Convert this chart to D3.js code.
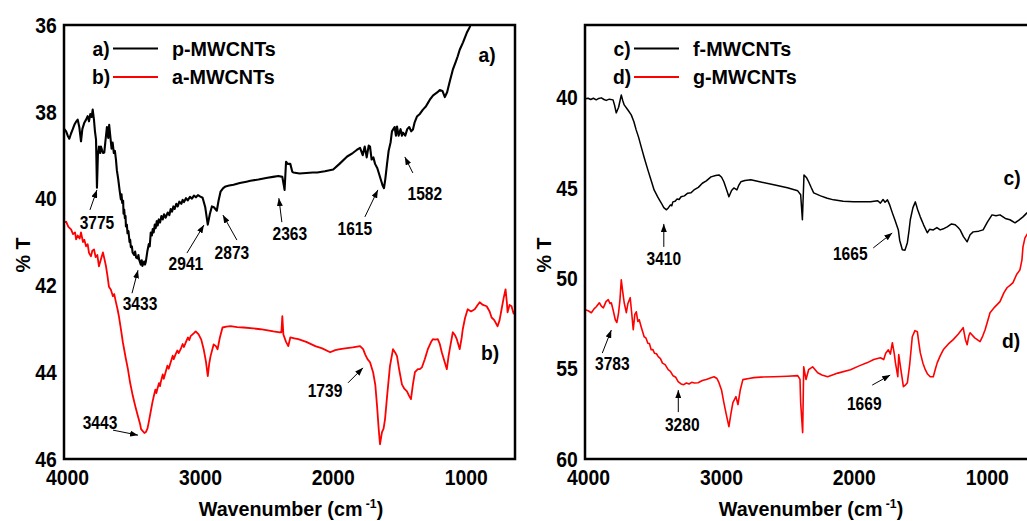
<!DOCTYPE html>
<html>
<head>
<meta charset="utf-8">
<script src="https://cdn.jsdelivr.net/npm/d3@7"></script>
<style>
  html, body { margin: 0; padding: 0; background: #fff; }
  svg { display: block; }
  text { font-family: "Liberation Sans", Arial, sans-serif; font-weight: bold; fill: #000; }
</style>
</head>
<body>
<svg id="chart" width="1027" height="521"></svg>
<script>
// FTIR spectra: [wavenumber (cm-1), transmittance (%T)]
const pMWCNTs = [
  [4020,38.40],[4007,38.45],[3995,38.55],[3983,38.62],[3970,38.50],[3957,38.40],[3945,38.30],[3930,38.22],
  [3920,38.18],[3908,38.35],[3895,38.68],[3885,38.40],[3870,38.25],[3857,38.18],[3845,38.10],[3835,38.22],
  [3825,38.05],[3815,38.12],[3807,37.95],[3797,38.20],[3790,38.45],[3782,38.64],[3775,39.75],[3768,39.00],
  [3760,38.80],[3750,38.95],[3745,38.80],[3735,38.90],[3728,38.95],[3720,38.94],[3712,38.70],[3700,38.35],
  [3690,38.60],[3683,38.30],[3675,38.55],[3665,38.85],[3657,38.71],[3648,38.95],[3640,38.90],[3632,39.10],
  [3625,39.35],[3615,39.55],[3605,39.80],[3595,40.02],[3590,39.90],[3585,40.10],[3578,40.05],[3575,40.35],
  [3570,40.25],[3565,40.45],[3560,40.40],[3557,40.64],[3550,40.60],[3545,40.80],[3538,40.75],[3530,41.00],
  [3525,40.95],[3520,41.12],[3512,41.10],[3507,41.24],[3495,41.30],[3488,41.22],[3480,41.36],[3470,41.38],
  [3463,41.30],[3458,41.40],[3445,41.52],[3438,41.42],[3433,41.55],[3420,41.45],[3413,41.52],[3407,41.45],
  [3395,41.20],[3385,41.05],[3378,41.10],[3370,40.78],[3362,40.85],[3355,40.70],[3348,40.78],[3340,40.60],
  [3333,40.68],[3325,40.52],[3318,40.62],[3310,40.48],[3300,40.55],[3290,40.40],[3280,40.48],[3270,40.36],
  [3258,40.44],[3242,40.32],[3230,40.38],[3220,40.24],[3210,40.30],[3200,40.18],[3190,40.24],[3178,40.12],
  [3167,40.18],[3155,40.07],[3140,40.12],[3130,40.03],[3120,40.08],[3105,39.99],[3092,40.04],[3075,39.96],
  [3060,40.00],[3045,39.93],[3030,39.97],[3015,39.92],[3000,39.95],[2980,39.98],
  [2960,40.20],[2941,40.60],[2925,40.35],[2910,40.18],[2895,40.20],[2873,40.28],[2860,40.05],[2845,39.84],
  [2825,39.76],[2807,39.72],[2780,39.70],[2747,39.68],[2700,39.64],[2650,39.61],[2620,39.59],[2560,39.56],
  [2492,39.52],[2450,39.50],[2410,39.48],[2380,39.50],[2363,39.80],[2352,39.15],[2340,39.20],[2320,39.20],
  [2305,39.38],[2297,39.40],[2250,39.42],[2200,39.41],[2150,39.40],[2117,39.40],[2060,39.37],[1997,39.33],
  [1950,39.20],[1892,39.03],[1850,38.95],[1820,38.88],[1795,38.83],[1775,39.00],[1760,38.80],[1745,39.05],
  [1730,38.78],[1720,38.80],[1708,39.10],[1695,39.05],[1682,39.20],[1665,39.30],[1650,39.45],[1635,39.60],
  [1625,39.70],[1615,39.76],[1605,39.55],[1592,39.20],[1580,38.90],[1565,38.70],[1555,38.45],[1547,38.41],
  [1535,38.35],[1525,38.55],[1517,38.34],[1505,38.55],[1490,38.40],[1480,38.55],[1472,38.48],[1455,38.55],
  [1440,38.40],[1425,38.35],[1410,38.45],[1397,38.41],[1385,38.25],[1367,38.11],[1345,38.05],[1322,37.95],
  [1300,37.88],[1285,37.80],[1270,37.72],[1245,37.62],[1217,37.56],[1195,37.50],[1175,37.52],[1157,37.66],
  [1140,37.55],[1120,37.30],[1097,37.03],[1075,36.85],[1060,36.72],[1045,36.57],[1020,36.40],[992,36.18],
  [970,36.05],[955,35.93],[940,35.80]
];

const aMWCNTs = [
  [4020,40.55],[4007,40.53],[3990,40.65],[3970,40.71],[3955,40.82],[3940,40.78],[3932,40.94],[3920,40.85],
  [3905,40.92],[3895,40.78],[3880,41.00],[3870,40.95],[3857,41.10],[3845,41.05],[3835,41.25],[3820,41.33],
  [3810,41.20],[3797,41.17],[3785,41.35],[3772,41.30],[3760,41.56],[3745,41.40],[3730,41.24],[3718,41.40],
  [3707,41.56],[3695,41.80],[3685,42.03],[3670,42.10],[3655,42.25],[3645,42.20],[3632,42.39],[3620,42.55],
  [3610,42.71],[3595,43.00],[3580,43.31],[3560,43.65],[3542,43.93],[3525,44.25],[3505,44.55],[3485,44.80],
  [3467,45.01],[3450,45.20],[3443,45.31],[3418,45.40],[3407,45.38],[3395,45.30],[3385,45.15],[3370,44.90],
  [3358,44.70],[3347,44.55],[3335,44.40],[3328,44.48],[3320,44.38],[3308,44.25],[3300,44.32],[3295,44.23],
  [3280,44.05],[3272,44.15],[3260,44.02],[3245,43.85],[3235,43.92],[3220,43.77],[3205,43.62],[3197,43.70],
  [3185,43.60],[3170,43.50],[3160,43.56],[3145,43.47],[3130,43.35],[3120,43.42],[3105,43.30],[3090,43.20],
  [3080,43.26],[3070,43.17],[3045,43.10],[3032,43.06],[3010,43.13],[2990,43.25],[2972,43.47],[2955,43.75],
  [2941,44.09],[2930,43.80],[2920,43.63],[2897,43.36],[2880,43.40],[2867,43.47],[2850,43.20],[2830,42.97],
  [2800,42.95],[2770,42.94],[2720,42.96],[2672,42.97],[2600,42.99],[2545,43.01],[2500,43.03],[2447,43.06],
  [2400,43.08],[2387,43.08],[2380,42.71],[2372,43.13],[2352,43.30],[2335,43.40],[2320,43.20],[2290,43.22],
  [2260,43.24],[2200,43.30],[2132,43.40],[2080,43.45],[2020,43.54],[1982,43.49],[1945,43.47],[1907,43.45],
  [1850,43.43],[1795,43.40],[1772,43.47],[1755,43.60],[1739,43.70],[1720,43.77],[1697,44.00],[1680,44.30],
  [1667,44.78],[1655,45.30],[1645,45.66],[1630,45.38],[1618,45.30],[1607,45.08],[1590,44.50],[1570,43.86],
  [1547,43.47],[1530,43.55],[1517,43.63],[1500,43.95],[1480,44.28],[1462,44.38],[1442,44.44],[1425,44.55],
  [1412,44.62],[1398,44.30],[1382,44.00],[1360,43.93],[1345,43.93],[1330,43.89],[1308,43.70],[1285,43.47],
  [1260,43.30],[1247,43.24],[1230,43.25],[1210,43.24],[1195,43.35],[1180,43.54],[1160,43.75],[1142,43.93],
  [1130,43.65],[1120,43.47],[1097,43.08],[1080,43.15],[1067,43.24],[1045,43.47],[1030,43.20],[1022,43.01],
  [1005,42.75],[985,42.55],[960,42.60],[932,42.55],[910,42.45],[895,42.39],[870,42.45],[842,42.48],
  [820,42.60],[805,42.74],[785,42.80],[760,42.94],[745,42.80],[730,42.55],[715,42.30],[700,42.09],
  [690,42.40],[685,42.62],[670,42.45],[655,42.48],[640,42.65],[629,42.60]
];

const fMWCNTs = [
  [4020,40.08],[4000,40.05],[3980,40.12],[3960,40.05],[3938,40.14],[3920,40.06],[3900,40.03],[3880,40.12],
  [3863,40.17],[3840,40.10],[3812,40.14],[3800,40.45],[3788,40.86],[3770,40.55],[3750,39.87],[3738,40.20],
  [3728,40.42],[3700,40.70],[3675,40.97],[3655,41.35],[3638,41.80],[3620,42.20],[3600,42.74],[3575,43.40],
  [3550,44.01],[3525,44.60],[3503,45.12],[3475,45.52],[3450,45.83],[3430,46.10],[3410,46.22],[3395,46.10],
  [3380,45.95],[3370,46.00],[3362,45.78],[3345,45.75],[3330,45.62],[3315,45.65],[3300,45.50],[3275,45.45],
  [3250,45.30],[3225,45.28],[3203,45.12],[3170,44.98],[3140,44.75],[3110,44.62],[3075,44.40],
  [3040,44.32],[3015,44.29],[2995,44.42],[2978,44.67],[2960,45.05],[2940,45.50],[2920,45.15],[2903,45.01],
  [2880,45.12],[2865,44.85],[2850,44.67],[2820,44.60],[2775,44.56],[2700,44.68],[2602,44.84],[2500,45.00],
  [2422,45.17],[2400,45.39],[2387,46.77],[2375,44.29],[2355,44.45],[2340,44.67],[2320,45.00],[2302,45.28],
  [2250,45.45],[2200,45.58],[2152,45.67],[2080,45.75],[2002,45.78],[1940,45.78],[1875,45.78],[1820,45.72],
  [1800,45.85],[1780,45.65],[1765,45.80],[1747,45.67],[1730,45.95],[1710,46.39],[1690,46.80],[1665,47.33],
  [1655,47.90],[1635,48.43],[1615,48.45],[1597,48.04],[1585,47.40],[1575,46.77],[1555,46.10],[1537,45.78],
  [1520,46.20],[1500,46.61],[1475,47.05],[1447,47.49],[1430,47.30],[1402,47.33],[1375,47.20],[1350,47.33],
  [1320,47.25],[1297,47.16],[1265,47.00],[1237,47.05],[1215,47.20],[1200,47.33],[1175,47.70],[1147,47.99],
  [1125,47.60],[1102,47.44],[1060,47.40],[1027,47.33],[995,46.90],[960,46.50],[930,46.55],[900,46.50],
  [860,46.70],[825,46.77],[787,46.94],[760,46.80],[727,46.61],[697,46.39],[660,46.30],[629,46.35]
];

const gMWCNTs = [
  [4020,51.75],[4000,51.80],[3975,51.91],[3955,51.70],[3938,51.58],[3915,51.36],[3900,51.55],[3885,51.64],
  [3865,51.30],[3848,51.19],[3835,51.40],[3825,51.36],[3810,51.80],[3795,52.30],[3783,52.45],[3770,51.90],
  [3760,51.20],[3750,50.09],[3740,50.70],[3728,51.36],[3712,51.91],[3700,51.40],[3683,51.08],[3672,51.90],
  [3660,52.85],[3648,52.00],[3637,51.86],[3625,52.40],[3615,52.30],[3600,52.70],[3578,53.24],[3565,53.30],
  [3550,53.60],[3538,53.62],[3525,53.96],[3512,53.95],[3500,54.15],[3485,54.18],[3472,54.34],[3455,54.45],
  [3440,54.70],[3420,54.78],[3397,55.06],[3380,55.15],[3360,55.40],[3340,55.48],[3322,55.72],[3300,55.85],
  [3280,55.89],[3260,55.80],[3240,55.85],[3220,55.76],[3200,55.80],[3172,55.78],[3140,55.66],[3110,55.60],
  [3080,55.52],[3052,55.45],[3030,55.55],[3015,55.78],
  [2995,56.20],[2978,56.88],[2958,57.60],[2940,58.21],[2925,57.50],[2910,56.88],[2887,56.55],[2872,56.99],
  [2855,56.20],[2835,55.61],[2790,55.55],[2752,55.50],[2700,55.47],[2602,55.45],[2500,55.42],[2422,55.39],
  [2405,55.60],[2400,56.88],[2385,58.54],[2377,54.90],[2360,55.60],[2340,55.06],[2310,54.90],[2272,55.23],
  [2240,55.35],[2197,55.45],[2120,55.25],[2025,55.06],[1960,54.85],[1897,54.67],[1850,54.50],[1800,54.40],
  [1775,54.50],[1760,54.15],[1740,53.96],[1725,54.20],[1710,53.57],[1695,54.20],[1687,54.67],[1669,55.45],
  [1662,54.23],[1645,55.10],[1627,56.00],[1610,55.90],[1597,55.78],[1580,54.80],[1560,53.24],[1540,52.90],
  [1522,52.96],[1510,53.60],[1500,54.12],[1480,54.70],[1462,55.06],[1445,55.30],[1425,55.45],[1402,55.45],
  [1385,55.00],[1372,54.67],[1350,54.30],[1327,53.96],[1290,53.65],[1252,53.40],[1215,53.10],[1177,52.74],
  [1160,53.40],[1147,53.68],[1135,53.20],[1125,53.02],[1090,53.30],[1050,53.51],[1030,53.20],[1012,52.85],
  [990,52.30],[975,51.91],[940,51.60],[900,51.30],[870,50.80],[847,50.53],[825,50.40],[802,50.25],
  [775,49.80],[750,49.54],[735,49.00],[727,48.27],[712,47.77],[690,47.50],[670,47.30],[650,47.10],[629,47.00]
];

// axis ticks
const xTicks = [4000, 3000, 2000, 1000];
const yTicksLeft = [36, 38, 40, 42, 44, 46];
const yTicksRight = [40, 45, 50, 55, 60];

// legend entries and curve tags
const legendLeft = [["a)", "p-MWCNTs"], ["b)", "a-MWCNTs"]];
const legendRight = [["c)", "f-MWCNTs"], ["d)", "g-MWCNTs"]];

// annotated bands: label, arrow tip (wavenumber, %T)
const peaksLeft = [
  ["3775", 3775, 39.80], ["3433", 3466, 41.65], ["2941", 2970, 40.61], ["2873", 2827, 40.38],
  ["2363", 2406, 39.99], ["1615", 1661, 39.80], ["1582", 1458, 39.04], ["3443", 3466, 45.45],
  ["1739", 1773, 43.90]
];
const peaksRight = [
  ["3410", 3430, 47.00], ["1665", 1711, 47.50], ["3783", 3825, 52.87], ["3280", 3321, 56.19],
  ["1669", 1726, 55.36]
];

// arrow tail and label offsets (px) from the arrow tip
const peakLayout = {
  "3775": [[-7, 20], [0, 32]], "3433": [[-6, 23], [2, 33]], "2941": [[-17, 28], [-18, 38]],
  "2873": [[14, 25], [9, 37]], "2363": [[3, 24], [11, 35]], "1615": [[-13, 27], [-23, 38]],
  "1582": [[8, 16], [20, 36]], "3443": [[-25, -5], [-38, -13]], "1739": [[-15, 15], [-38, 22]],
  "3410": [[0, 23], [0, 34]], "1665": [[-19, 15], [-42, 20]], "3783": [[-9, 23], [1, 33]],
  "3280": [[0, 22], [4, 34]], "1669": [[-18, 10], [-26, 28]]
};

const svg = d3.select("#chart");
svg.append("rect").attr("width", 1027).attr("height", 521).attr("fill", "#fff");

const defs = svg.append("defs");
defs.append("marker")
  .attr("id", "arrowhead")
  .attr("markerUnits", "userSpaceOnUse")
  .attr("markerWidth", 8).attr("markerHeight", 6)
  .attr("refX", 8).attr("refY", 3)
  .attr("orient", "auto")
  .append("path").attr("d", "M0,0 L8,3 L0,6 Z").attr("fill", "#000");

const TOP = 25, BOTTOM = 459;
const X_DOMAIN = [4023, 629];

function addText(g, x, y, str, size, sx, anchor) {
  return g.append("text")
    .attr("transform", `translate(${x},${y}) scale(${sx},1)`)
    .attr("text-anchor", anchor || "start")
    .style("font-size", size + "px")
    .text(str);
}

function drawPanel(cfg) {
  const g = svg.append("g");
  const x = d3.scaleLinear().domain(X_DOMAIN).range([cfg.left, cfg.right]);
  const y = d3.scaleLinear().domain(cfg.yDomain).range([TOP, BOTTOM]);

  const clipId = "clip-" + cfg.id;
  defs.append("clipPath").attr("id", clipId)
    .append("rect").attr("x", cfg.left).attr("y", TOP)
    .attr("width", cfg.right - cfg.left).attr("height", BOTTOM - TOP);

  const line = d3.line().x(d => x(d[0])).y(d => y(d[1])).curve(d3.curveLinear);
  const plot = g.append("g").attr("clip-path", `url(#${clipId})`);
  cfg.series.forEach(s => {
    plot.append("path").datum(s.data)
      .attr("d", line)
      .attr("fill", "none")
      .attr("stroke", s.color)
      .attr("stroke-width", s.width)
      .attr("stroke-linejoin", "round");
  });

  // y axis
  const yAxis = g.append("g").attr("transform", `translate(${cfg.left},0)`)
    .call(d3.axisLeft(y).tickValues(cfg.yTicks).tickSize(0).tickPadding(8));
  yAxis.select(".domain").remove();
  yAxis.selectAll("text")
    .attr("transform", "scale(0.9,1)")
    .attr("dy", "0.34em")
    .style("font-size", "21.5px")
    .style("font-family", "'Liberation Sans', Arial, sans-serif")
    .style("font-weight", "bold");

  // x axis
  const xAxis = g.append("g").attr("transform", `translate(0,${BOTTOM})`)
    .call(d3.axisBottom(x).tickValues(xTicks).tickSize(0).tickFormat(d3.format("d")));
  xAxis.select(".domain").remove();
  xAxis.selectAll("text")
    .attr("y", 11).attr("dy", "0.71em")
    .attr("transform", "scale(0.9,1)")
    .style("font-size", "21.5px")
    .style("font-family", "'Liberation Sans', Arial, sans-serif")
    .style("font-weight", "bold");

  // frame
  g.append("rect")
    .attr("x", cfg.left).attr("y", TOP)
    .attr("width", cfg.right - cfg.left).attr("height", BOTTOM - TOP)
    .attr("fill", "none").attr("stroke", "#000").attr("stroke-width", 2.5);

  // axis titles
  const title = g.append("text")
    .attr("transform", `translate(${cfg.titleX},516) scale(0.94,1)`)
    .attr("text-anchor", "middle")
    .style("font-size", "21px");
  title.append("tspan").text("Wavenumber (cm");
  title.append("tspan").attr("dy", -8).style("font-size", "13px").text(" -1");
  title.append("tspan").attr("dy", 8).text(")");

  g.append("text")
    .attr("transform", `translate(${cfg.left - 34},255) rotate(-90) scale(0.94,1)`)
    .attr("text-anchor", "middle")
    .style("font-size", "21px")
    .text("% T");

  // legend
  cfg.legend.forEach((entry, i) => {
    const ly = 48.5 + i * 28.5;
    addText(g, cfg.left + 37, ly + 7, entry[0], 21, 0.92, "middle");
    g.append("line")
      .attr("x1", cfg.left + 49).attr("x2", cfg.left + 94)
      .attr("y1", ly).attr("y2", ly)
      .attr("stroke", cfg.series[i].color).attr("stroke-width", 2);
    addText(g, cfg.left + 108, ly + 7, entry[1], 21, 0.94, "start");
  });

  // curve tags
  cfg.tags.forEach(t => addText(g, t[0], t[1], t[2], 21, 0.92, "middle"));

  // band annotations
  cfg.peaks.forEach(p => {
    const tx = x(p[1]), ty = y(p[2]);
    const lay = peakLayout[p[0]];
    g.append("line")
      .attr("x1", tx + lay[0][0]).attr("y1", ty + lay[0][1])
      .attr("x2", tx).attr("y2", ty)
      .attr("stroke", "#000").attr("stroke-width", 1)
      .attr("marker-end", "url(#arrowhead)");
    addText(g, tx + lay[1][0], ty + lay[1][1] + 7, p[0], 19, 0.82, "middle");
  });
}

drawPanel({
  id: "left", left: 64, right: 515, yDomain: [36, 46], yTicks: yTicksLeft,
  titleX: 291,
  series: [
    { data: pMWCNTs, color: "#000000", width: 2.1 },
    { data: aMWCNTs, color: "#ff0000", width: 1.8 }
  ],
  legend: legendLeft,
  tags: [[487, 62, "a)"], [490, 360, "b)"]],
  peaks: peaksLeft
});

drawPanel({
  id: "right", left: 585, right: 1036, yDomain: [36, 60], yTicks: yTicksRight,
  titleX: 811,
  series: [
    { data: fMWCNTs, color: "#000000", width: 1.5 },
    { data: gMWCNTs, color: "#ff0000", width: 1.6 }
  ],
  legend: legendRight,
  tags: [[1012, 185, "c)"], [1011, 348, "d)"]],
  peaks: peaksRight
});
</script>
</body>
</html>
